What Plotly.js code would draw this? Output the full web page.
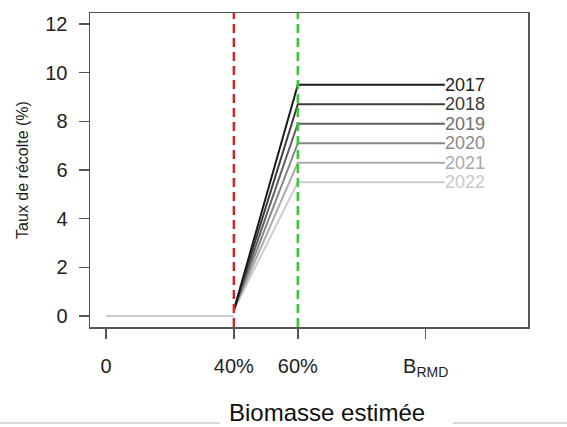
<!DOCTYPE html>
<html><head><meta charset="utf-8">
<script src="https://cdn.plot.ly/plotly-3.0.1.min.js"></script>
<style>html,body{margin:0;padding:0;background:#fff}#chart{width:567px;height:427px}</style>
</head><body><div id="chart"></div>
<script>
// Data
const years = ["2017", "2018", "2019", "2020", "2021", "2022"];
const rates = [9.5, 8.7, 7.9, 7.1, 6.3, 5.5];
const lineColors = ["#1a1a1a", "#3d3d3d", "#606060", "#858585", "#aaaaaa", "#cccccc"];
const labelColors = ["#222222", "#3a3a3a", "#707070", "#8a8a8a", "#aaaaaa", "#c8c8c8"];
const bLow = 40, bHigh = 60, bEnd = 106; // % of B_RMD
const startRate = 0.25;
const xTickVals = [0, 40, 60, 100];
const xTickText = ["0", "40%", "60%", "B<sub>RMD</sub>"];
const yTickVals = [0, 2, 4, 6, 8, 10, 12];

const traces = [];
// flat part below 40%
traces.push({x: [0, bLow], y: [0, 0], mode: "lines", line: {color: "#cccccc", width: 2}, hoverinfo: "skip"});
for (let i = years.length - 1; i >= 0; i--) {
  traces.push({
    x: [bLow, bHigh, bEnd],
    y: [startRate, rates[i], rates[i]],
    mode: "lines",
    line: {color: lineColors[i], width: 2},
    name: years[i]
  });
}

const annotations = years.map((yr, i) => ({
  x: bEnd, y: rates[i], xref: "x", yref: "y", text: yr, showarrow: false,
  xanchor: "left", yanchor: "middle", xshift: -2,
  font: {family: "Liberation Sans, Arial, sans-serif", size: 18, color: labelColors[i]}
}));
annotations.push({
  x: 0.541, y: -0.272, xref: "paper", yref: "paper", text: "Biomasse estimée", showarrow: false,
  xanchor: "center", yanchor: "middle",
  font: {family: "Liberation Sans, Arial, sans-serif", size: 24, color: "#111"}
});

const shapes = [
  {type: "line", xref: "x", yref: "paper", x0: bLow, x1: bLow, y0: 0, y1: 1,
   line: {color: "#cc2a2a", width: 2.5, dash: "9px,5px"}},
  {type: "line", xref: "x", yref: "paper", x0: bHigh, x1: bHigh, y0: 0, y1: 1,
   line: {color: "#33cc33", width: 2.5, dash: "9px,5px"}},
  {type: "line", xref: "paper", yref: "paper", x0: -0.21, x1: 0.297, y0: -0.306, y1: -0.306,
   line: {color: "#cccccc", width: 1.5}},
  {type: "line", xref: "paper", yref: "paper", x0: 0.828, x1: 1.1, y0: -0.306, y1: -0.306,
   line: {color: "#cccccc", width: 1.5}}
];

const layout = {
  width: 567, height: 427,
  margin: {l: 90, r: 39, t: 13, b: 100},
  paper_bgcolor: "#fff", plot_bgcolor: "#fff",
  showlegend: false,
  font: {family: "Liberation Sans, Arial, sans-serif", color: "#222"},
  xaxis: {
    range: [-5, 132], showgrid: false, zeroline: false,
    showline: true, mirror: true, linecolor: "#555", linewidth: 1.5,
    ticks: "outside", ticklen: 10, tickwidth: 1.5, tickcolor: "#555",
    tickmode: "array", tickvals: xTickVals, ticktext: xTickText,
    tickfont: {size: 20, color: "#222"}, ticklabelstandoff: 10
  },
  yaxis: {
    range: [-0.45, 12.45], showgrid: false, zeroline: false,
    showline: true, mirror: true, linecolor: "#555", linewidth: 1.5,
    ticks: "outside", ticklen: 10, tickwidth: 1.5, tickcolor: "#555",
    tickmode: "array", tickvals: yTickVals,
    tickfont: {size: 20, color: "#222"}, ticklabelstandoff: 7,
    title: {text: "Taux de récolte (%)", font: {size: 16, color: "#222"}, standoff: 12}
  },
  annotations: annotations,
  shapes: shapes
};

Plotly.newPlot("chart", traces, layout, {displayModeBar: false, staticPlot: true});
</script>
</body></html>
